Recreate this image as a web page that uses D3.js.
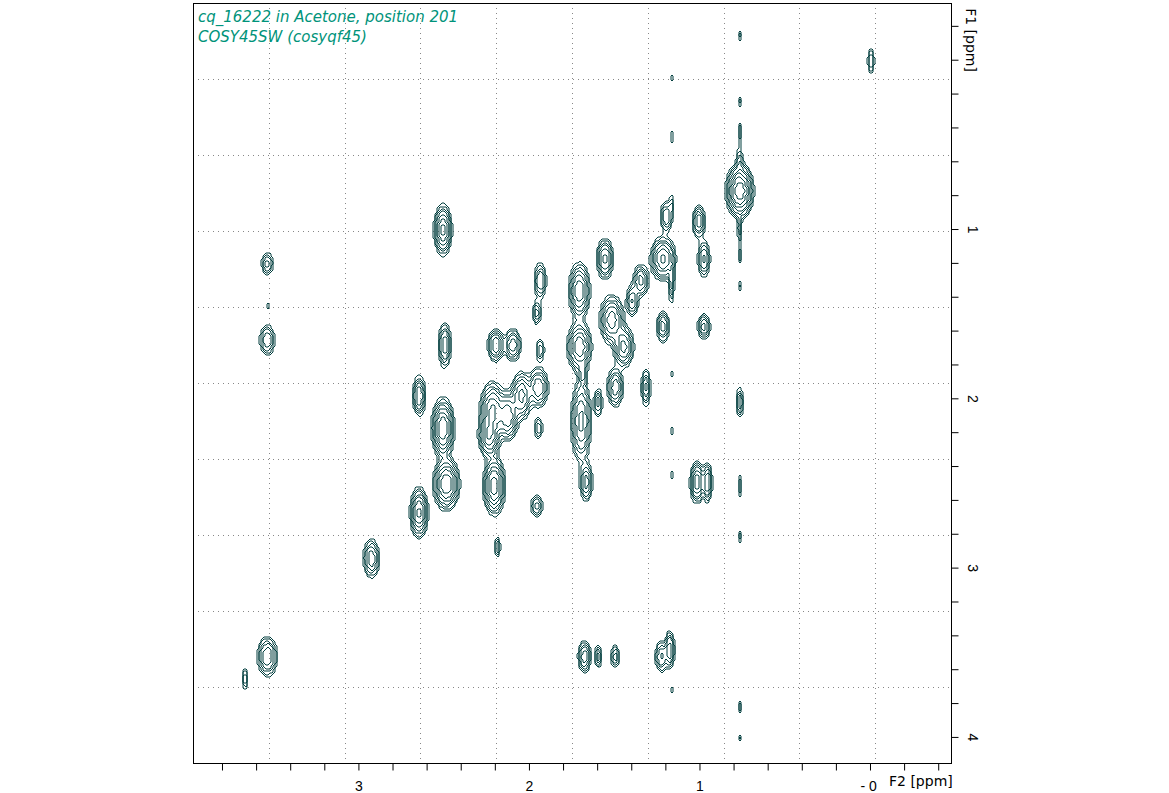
<!DOCTYPE html>
<html><head><meta charset="utf-8">
<script src="https://cdn.jsdelivr.net/npm/d3@7"></script>
<style>body{margin:0;background:#fff}</style>
</head><body>
<script>
// peaks: [f2 ppm, f1 ppm, amplitude, width f2, width f1]
var peaks = [
  [0.00,0.00,1.0,0.012,0.05],
  [0.77,-0.15,0.5,0.006,0.03],[0.77,0.24,0.5,0.006,0.03],[0.77,0.42,0.6,0.008,0.05],[0.77,0.59,0.8,0.012,0.05],
  [0.77,0.77,6.0,0.035,0.07],[0.77,1.00,0.9,0.008,0.05],[0.77,1.15,0.6,0.006,0.04],[0.77,1.33,0.5,0.006,0.03],
  [0.77,2.02,1.4,0.012,0.05],[0.77,2.51,0.7,0.006,0.05],[0.77,2.81,0.6,0.006,0.03],[0.77,3.82,0.6,0.006,0.03],[0.77,4.00,0.5,0.006,0.02],
  [1.17,0.10,0.5,0.006,0.02],[1.17,0.45,0.5,0.006,0.04],[1.17,0.85,0.7,0.008,0.04],[1.17,1.30,1.2,0.01,0.08],
  [1.17,1.85,0.5,0.006,0.02],[1.17,2.19,0.5,0.006,0.03],[1.17,2.45,0.5,0.006,0.03],[1.17,3.72,0.5,0.006,0.02],
  [1.18,3.48,2.0,0.015,0.06],[1.23,3.52,1.6,0.02,0.05],
  [1.22,1.17,3.5,0.035,0.06],[1.20,0.92,1.5,0.02,0.05],[1.01,0.95,2.0,0.02,0.05],[0.98,1.17,1.6,0.02,0.06],
  [0.98,1.57,1.8,0.02,0.04],[1.22,1.57,1.8,0.02,0.05],[1.56,1.17,2.5,0.025,0.06],[1.71,1.36,3.0,0.03,0.08],
  [1.71,1.69,3.0,0.035,0.07],[1.52,1.53,2.8,0.035,0.07],[1.45,1.69,2.5,0.03,0.06],[1.50,1.93,2.0,0.025,0.06],
  [1.32,1.93,1.6,0.015,0.06],[1.35,1.30,1.8,0.025,0.05],[1.40,1.42,1.5,0.02,0.05],
  [1.94,1.30,1.5,0.02,0.06],[1.96,1.49,1.2,0.015,0.04],[1.94,1.71,1.0,0.015,0.04],
  [2.20,1.68,2.2,0.025,0.05],[2.10,1.68,2.0,0.025,0.05],[2.51,1.00,3.5,0.025,0.07],[2.50,1.68,2.0,0.02,0.07],
  [3.54,1.20,1.2,0.02,0.04],[3.54,1.65,1.5,0.025,0.05],[3.54,1.45,0.5,0.006,0.02],
  [2.65,1.98,2.2,0.02,0.06],[2.51,2.17,4.5,0.03,0.08],[2.49,2.50,4.5,0.035,0.07],
  [2.22,2.07,3.5,0.035,0.08],[2.13,2.10,3.0,0.03,0.07],[2.05,1.98,2.5,0.03,0.07],[1.95,1.93,2.2,0.03,0.06],
  [2.24,2.22,3.0,0.03,0.06],[1.95,2.17,1.0,0.015,0.04],
  [1.70,2.13,2.5,0.03,0.12],[1.60,2.02,1.2,0.015,0.05],[1.69,1.85,1.0,0.015,0.04],
  [2.21,2.51,4.0,0.03,0.08],[2.65,2.67,3.5,0.025,0.07],[1.67,2.49,1.8,0.02,0.06],[1.96,2.63,1.2,0.02,0.04],
  [2.19,2.87,1.0,0.01,0.04],[2.93,2.94,2.0,0.025,0.06],
  [1.02,2.49,3.0,0.02,0.06],[0.96,2.49,2.2,0.015,0.06],
  [3.54,3.52,2.2,0.03,0.06],[3.67,3.65,1.0,0.01,0.04],
  [1.68,3.52,2.0,0.02,0.05],[1.60,3.52,1.2,0.012,0.04],[1.50,3.52,1.2,0.015,0.04]
];
var xTicks = d3.range(-0.4, 3.81, 0.2).map(function(d){return +d.toFixed(1);});
var yTicks = d3.range(-0.2, 4.01, 0.2).map(function(d){return +d.toFixed(1);});
var xLabels = [3, 2, 1, 0];
var yLabels = [1, 2, 3, 4];
var titleLines = ["cq_16222 in Acetone, position 201", "COSY45SW (cosyqf45)"];

var W = 1169, H = 793, L = 193, R = 951, T = 3, B = 763;
var x = d3.scaleLinear().domain([3.97, -0.475]).range([L, R]);
var y = d3.scaleLinear().domain([-0.335, 4.154]).range([T, B]);

var svg = d3.select("body").append("svg").attr("width", W).attr("height", H)
  .style("font-family", "DejaVu Sans, sans-serif");

// dotted grid, 10 equal divisions
var g = svg.append("g").attr("stroke", "#888").attr("stroke-dasharray", "1,4").attr("stroke-width", 1);
d3.range(1, 10).forEach(function(i){
  var gx = Math.round(L + (R - L) * i / 10) + 0.5, gy = Math.round(T + (B - T) * i / 10) + 0.5;
  g.append("line").attr("x1", gx).attr("x2", gx).attr("y1", T).attr("y2", B);
  g.append("line").attr("x1", L).attr("x2", R).attr("y1", gy).attr("y2", gy);
});

// contour field
var step = 2, nx = Math.ceil((R - L) / step), ny = Math.ceil((B - T) / step);
var vals = new Float64Array(nx * ny);
peaks.forEach(function(p){
  var cx = x(p[0]), cy = y(p[1]);
  var sx = Math.abs(x(p[3]) - x(0)), sy = Math.abs(y(p[4]) - y(0));
  var i0 = Math.max(0, Math.floor((cx - L - 4 * sx) / step)), i1 = Math.min(nx - 1, Math.ceil((cx - L + 4 * sx) / step));
  var j0 = Math.max(0, Math.floor((cy - T - 4 * sy) / step)), j1 = Math.min(ny - 1, Math.ceil((cy - T + 4 * sy) / step));
  for (var j = j0; j <= j1; j++) for (var i = i0; i <= i1; i++) {
    var dx = (L + i * step - cx) / sx, dy = (T + j * step - cy) / sy;
    vals[j * nx + i] += p[2] * Math.exp(-0.5 * (dx * dx + dy * dy));
  }
});
var levels = [0.3, 0.45, 0.7, 1.0, 1.5, 2.2, 3.2, 4.6];
var contours = d3.contours().size([nx, ny]).smooth(false).thresholds(levels)(vals);
var proj = d3.geoTransform({point: function(px, py){ this.stream.point(L + px * step, T + py * step); }});
svg.append("g").selectAll("path").data(contours).join("path")
  .attr("d", d3.geoPath(proj)).attr("fill", "none").attr("stroke", "#033f3f").attr("stroke-width", 1);

// frame
svg.append("rect").attr("x", L + 0.5).attr("y", T + 0.5).attr("width", R - L).attr("height", B - T)
  .attr("fill", "none").attr("stroke", "#000");

// bottom axis
var ax = svg.append("g").attr("transform", "translate(0," + (B + 0.5) + ")")
  .call(d3.axisBottom(x).tickValues(xTicks).tickSize(7).tickSizeOuter(0)
    .tickFormat(function(d){ return xLabels.indexOf(d) >= 0 ? (d === 0 ? "- 0" : d) : ""; }));
ax.select(".domain").remove();
ax.selectAll("text").attr("dy", "1.25em").style("font-size", "14px").attr("fill", "#000");
ax.selectAll("text").filter(function(d){ return d === 0; }).attr("text-anchor", "end").attr("dx", "0.45em");
svg.append("text").attr("x", 889).attr("y", 786).style("font-size", "14px").text("F2 [ppm]");

// right axis
var ay = svg.append("g").attr("transform", "translate(" + (R + 0.5) + ",0)")
  .call(d3.axisRight(y).tickValues(yTicks).tickSize(7).tickSizeOuter(0)
    .tickFormat(function(d){ return yLabels.indexOf(d) >= 0 ? d : ""; }));
ay.select(".domain").remove();
ay.selectAll("text").style("font-size", "14px").attr("fill", "#000")
  .attr("x", 0).attr("dy", 0).attr("text-anchor", "middle")
  .attr("transform", "translate(16,0) rotate(90)");
svg.append("text").attr("transform", "translate(966,40) rotate(90)").attr("text-anchor", "middle")
  .style("font-size", "14px").text("F1 [ppm]");

// title
svg.selectAll(".ttl").data(titleLines).join("text").attr("class", "ttl")
  .attr("x", 198).attr("y", function(d, i){ return 22 + i * 20; })
  .style("font-size", "15px").style("font-style", "italic").attr("fill", "#00937a").text(function(d){ return d; });
</script>
</body></html>
